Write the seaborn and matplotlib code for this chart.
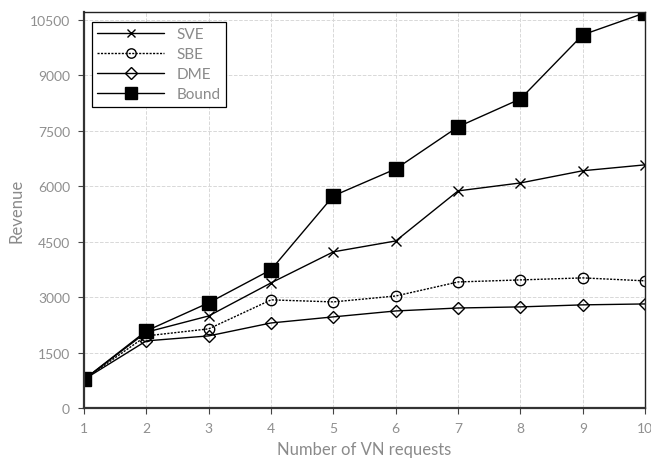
import numpy as np
import pandas as pd
import matplotlib
matplotlib.use("Agg")
import matplotlib.pyplot as plt
import seaborn as sns

# values
requests = [1, 2, 3, 4, 5, 6, 7, 8, 9, 10]
sve = [770, 2050, 2490, 3385, 4225, 4520, 5875, 6090, 6420, 6580]
sbe = [770, 1950, 2140, 2925, 2870, 3030, 3410, 3465, 3520, 3440]
dme = [770, 1815, 1950, 2300, 2465, 2625, 2705, 2735, 2790, 2815]
bound = [770, 2085, 2845, 3740, 5740, 6470, 7610, 8365, 10100, 10695]
yticks = [0, 1500, 3000, 4500, 6000, 7500, 9000, 10500]

series = {"SVE": sve, "SBE": sbe, "DME": dme, "Bound": bound}

sns.set_style("ticks")
plt.rcParams['font.family'] = ['Lato', 'DejaVu Sans']

fig = plt.figure(figsize=(6.51, 4.6), dpi=100)
ax = fig.add_axes([0.129, 0.111, 0.862, 0.861])

# marker, size, face, line style
styles = {
    "SVE": ("x", 6.5, "black", "-"),
    "SBE": ("o", 7.5, "none", (0, (1.5, 1))),
    "DME": ("D", 6.5, "none", "-"),
    "Bound": ("s", 9.5, "black", "-"),
}
for name, vals in series.items():
    mk, ms, fc, ls = styles[name]
    sns.lineplot(x=requests, y=vals, ax=ax, color="black", linewidth=1.0,
                 linestyle=ls, marker=mk, markersize=ms, markerfacecolor=fc,
                 markeredgecolor="black", markeredgewidth=1.0, label=name)

ax.set_xlim(1, 10)
ax.set_ylim(0, 10720)
ax.set_xticks(requests)
ax.set_yticks(yticks)
ax.grid(True, color="#d8d8d8", linestyle="--", linewidth=0.7)
ax.set_axisbelow(True)

ax.tick_params(labelcolor="#8f8f8f", labelsize=10, length=4, width=0.8,
               color="#444444", pad=6)
for side in ["top", "right"]:
    ax.spines[side].set_color("#222222")
    ax.spines[side].set_linewidth(1.0)
for side in ["left", "bottom"]:
    ax.spines[side].set_color("#333333")
    ax.spines[side].set_linewidth(1.6)

ax.set_xlabel("Number of VN requests", color="#8a8a8a", fontsize=12, labelpad=5)
ax.set_ylabel("Revenue", color="#8a8a8a", fontsize=12)

leg = ax.legend(loc="upper left", bbox_to_anchor=(0.014, 0.975), borderaxespad=0,
                fancybox=False, framealpha=1, edgecolor="black", fontsize=11,
                handlelength=4.4, borderpad=0.35, labelspacing=0.4, markerscale=0.9)
for t in leg.get_texts():
    t.set_color("#8a8a8a")
leg.get_frame().set_linewidth(0.9)

fig.savefig("out.png", dpi=100)
